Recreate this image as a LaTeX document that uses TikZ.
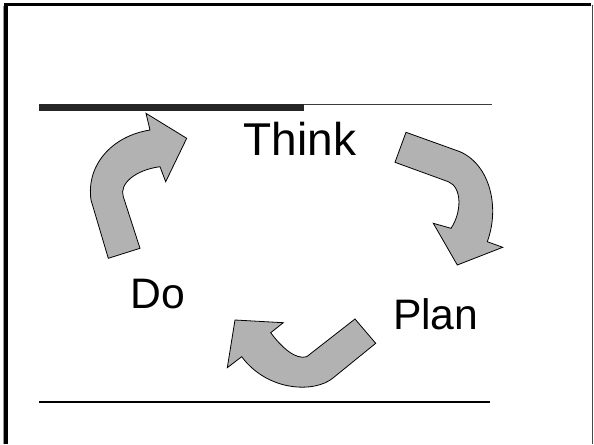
\documentclass[tikz,border=0pt]{standalone}
\usepackage{fontspec}
\setmainfont{Liberation Sans}
\definecolor{arrowgray}{RGB}{178,178,178}
\definecolor{bargray}{RGB}{38,38,38}
\tikzset{every picture/.style={line width=0.75pt}}
\tikzset{
	cycle arrow/.style={draw=black, fill=arrowgray, line width=0.6pt, line join=miter},
	cycle label/.style={anchor=base, inner sep=0pt, font=\fontsize{32}{38}\selectfont}}

\begin{document}
\begin{tikzpicture}[x=0.75pt,y=0.75pt,yscale=-1,xscale=1]
	\useasboundingbox (0,0) rectangle (594,444);

	%Shape: Frame
	\draw [color={rgb, 255:red, 150; green, 150; blue, 150 }, line width=1pt] (3.5,6) -- (3.5,444) ;
	\draw [line width=2.4pt] (6,444) -- (6,4.5) -- (591,4.5) ;
	\draw [color={rgb, 255:red, 70; green, 70; blue, 70 }, line width=0.9pt] (592.8,4.5) -- (592.8,444) ;

	%Straight Lines: title rule
	\draw [color=bargray, line width=5.25pt] (39,107.6) -- (304,107.6) ;
	\draw [color={rgb, 255:red, 60; green, 60; blue, 60 }, line width=0.8pt] (304,104.8) -- (492,104.8) ;
	%Straight Lines: bottom rule
	\draw [line width=0.8pt] (39,402) -- (490,402) ;

	%Shape: Curved Arrow (Do to Think)
	\draw [cycle arrow] (108.3,258.3) -- (140,248.3) -- (123.3,196.7) .. controls (119,184) and (135,170) .. (160,166.7) -- (165.7,181.7) -- (186.7,138.3) -- (146,113.3) -- (150,130) .. controls (112,136) and (86,165) .. (91,200) -- cycle ;
	%Shape: Curved Arrow (Think to Plan)
	\draw [cycle arrow] (406,132.3) -- (395,162.3) -- (448.3,181.7) .. controls (462,187) and (462,212) .. (451,228.3) -- (433.3,223.3) -- (457.3,265) -- (502.7,247.3) -- (487.3,241.7) .. controls (500,207) and (490,165) .. (460,151.7) -- cycle ;
	%Shape: Curved Arrow (Plan to Do)
	\draw [cycle arrow] (355,319) -- (375.7,343.3) -- (333,378) .. controls (315,393) and (268,392) .. (241.7,356.7) -- (227.3,367.7) -- (235,320) -- (283.3,322.7) -- (270.7,332.7) .. controls (282,348) and (296,360) .. (306.7,356.7) -- cycle ;

	% Text Node
	\node [cycle label, font=\fontsize{34.5}{40}\selectfont] (think) at (300,155) {Think};
	% Text Node
	\node [cycle label] (do) at (157.5,308.3) {Do};
	% Text Node
	\node [cycle label] (plan) at (435.7,329.3) {Plan};

\end{tikzpicture}
\end{document}
